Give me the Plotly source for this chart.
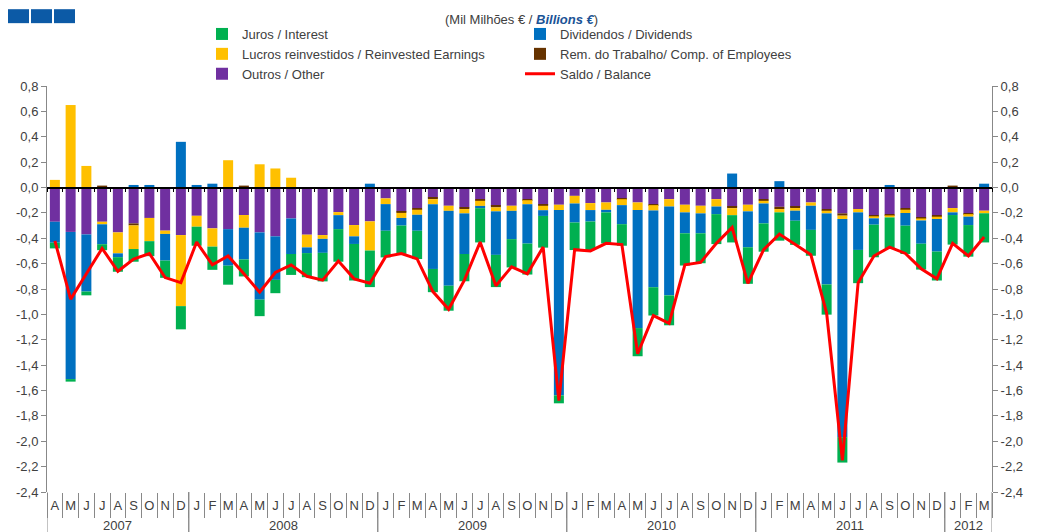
import plotly.graph_objects as go

# ---------------- data ----------------
month_letters = ["J", "F", "M", "A", "M", "J", "J", "A", "S", "O", "N", "D"]
start_year, start_month, n_months = 2007, 4, 60
years, months = [], []
for i in range(n_months):
    m = (start_month - 1 + i) % 12
    years.append(str(start_year + (start_month - 1 + i) // 12))
    months.append(month_letters[m])

juros = [-0.045, -0.02, -0.03, -0.047, -0.115, -0.10, -0.118, -0.136, -0.183,
         -0.15, -0.183, -0.15, -0.134, -0.13, -0.105, -0.165, -0.19, -0.225, -0.257, -0.288, -0.288,
         -0.21, -0.223, -0.223, -0.183, -0.197, -0.215, -0.27, -0.254, -0.223, -0.244, -0.25, -0.063,
         -0.217, -0.225, -0.245, -0.17, -0.222, -0.223, -0.236, -0.254, -0.236, -0.236, -0.215, -0.288,
         -0.223, -0.223, -0.19, -0.204, -0.238, -0.20, -0.262, -0.257, -0.244, -0.223, -0.204, -0.228,
         -0.233, -0.249, -0.23]
dividendos = [-0.165, -1.16, -0.45, -0.157, -0.03, 0.02, 0.02, -0.21, 0.36,
              0.02, 0.03, -0.288, -0.25, -0.53, -0.343, -0.28, -0.045, -0.11, -0.11, -0.06, 0.03,
              -0.21, -0.06, -0.126, -0.51, -0.59, -0.32, -0.018, -0.343, -0.223, -0.31, -0.045, -1.46,
              -0.15, -0.09, -0.02, -0.15, -0.93, -0.605, -0.70, -0.165, -0.157, -0.06, 0.11, -0.283,
              -0.157, 0.05, -0.079, -0.19, -0.56, -1.72, -0.296, -0.05, 0.02, -0.10, -0.183, -0.257,
              -0.021, -0.066, 0.03]
lucros = [0.06, 0.65, 0.17, -0.02, -0.165, -0.186, -0.183, -0.026, -0.56,
          -0.086, -0.144, 0.215, -0.10, 0.183, 0.15, 0.077, -0.10, -0.03, -0.024, -0.089, -0.23,
          -0.045, -0.04, -0.04, -0.04, -0.04, -0.034, -0.04, -0.031, -0.04, -0.032, -0.035, -0.042,
          -0.06, -0.055, -0.058, -0.047, -0.06, -0.042, -0.058, -0.06, -0.06, -0.058, -0.055, -0.052,
          -0.021, -0.026, -0.021, -0.026, -0.021, -0.026, -0.026, -0.016, -0.016, -0.026, -0.016, -0.018,
          -0.034, -0.02, -0.02]
remuneracoes = [0.0, 0.0, 0.0, 0.015, 0.0, -0.016, 0.0, 0.0, 0.0,
                0.0, 0.0, 0.0, 0.015, 0.0, 0.0, 0.0, 0.0, 0.0, 0.0, 0.0, 0.0,
                0.0, -0.01, -0.013, -0.013, 0.0, -0.013, -0.013, -0.013, 0.0, -0.008, -0.008, 0.0,
                0.0, 0.0, 0.0, -0.008, 0.0, -0.008, 0.0, 0.0, 0.0, 0.0, -0.013, 0.0,
                -0.013, -0.018, -0.01, 0.0, -0.013, -0.018, 0.0, -0.01, -0.01, -0.013, -0.008, -0.013,
                0.015, -0.006, 0.0]
outros = [-0.27, -0.35, -0.37, -0.27, -0.354, -0.283, -0.24, -0.34, -0.375,
          -0.223, -0.322, -0.328, -0.217, -0.354, -0.385, -0.244, -0.372, -0.375, -0.194, -0.296, -0.267,
          -0.086, -0.19, -0.162, -0.079, -0.144, -0.157, -0.092, -0.144, -0.144, -0.092, -0.136, -0.136,
          -0.066, -0.123, -0.118, -0.084, -0.118, -0.131, -0.092, -0.136, -0.144, -0.092, -0.15, -0.136,
          -0.092, -0.152, -0.152, -0.118, -0.17, -0.204, -0.17, -0.217, -0.21, -0.162, -0.236, -0.217,
          -0.162, -0.204, -0.183]
saldo = [-0.42, -0.88, -0.68, -0.48, -0.66, -0.565, -0.52, -0.71, -0.75,
         -0.43, -0.61, -0.54, -0.68, -0.825, -0.67, -0.61, -0.70, -0.73, -0.58, -0.72, -0.755,
         -0.545, -0.52, -0.563, -0.82, -0.96, -0.73, -0.43, -0.775, -0.625, -0.68, -0.47, -1.68,
         -0.49, -0.50, -0.44, -0.45, -1.31, -1.01, -1.07, -0.61, -0.59, -0.44, -0.315, -0.755,
         -0.49, -0.367, -0.45, -0.53, -0.99, -2.15, -0.75, -0.54, -0.47, -0.52, -0.64, -0.72,
         -0.44, -0.54, -0.39]

y_tick_vals = [-2.4, -2.2, -2.0, -1.8, -1.6, -1.4, -1.2, -1.0, -0.8, -0.6, -0.4, -0.2,
               0.0, 0.2, 0.4, 0.6, 0.8]
y_tick_text = ["-2,4", "-2,2", "-2,0", "-1,8", "-1,6", "-1,4", "-1,2", "-1,0", "-0,8", "-0,6",
               "-0,4", "-0,2", "0,0", "0,2", "0,4", "0,6", "0,8"]

# ---------------- figure ----------------
W, H = 1037, 532
OFF = 8  # page body margin offset
ML, MR, MT, MB = 39, 53, 77, 48
PW, PH = W - ML - MR, H - MT - MB


def px(xs):
    return (xs - OFF - ML) / PW


def py(ys):
    return 1 - (ys - OFF - MT) / PH


FONT = "Liberation Sans, Arial, sans-serif"
TXT = "#404040"
GRAY = "#888888"
idx = list(range(n_months))
boundaries = [i - 0.5 for i in range(n_months + 1)]

fig = go.Figure()
# stacking order (nearest zero first for negatives)
stack = [
    ("Outros / Other", outros, "#7030a0", "legend", 3),
    ("Rem. do Trabalho/ Comp. of Employees", remuneracoes, "#663300", "legend2", 2),
    ("Lucros reinvestidos / Reinvested Earnings", lucros, "#ffc000", "legend", 2),
    ("Dividendos / Dividends", dividendos, "#0070c0", "legend2", 1),
    ("Juros / Interest", juros, "#00b050", "legend", 1),
]
for name, vals, col, leg, rank in stack:
    fig.add_trace(go.Bar(x=idx, y=vals, name=name, marker=dict(color=col, line=dict(width=0)),
                         legend=leg, legendrank=rank))

fig.add_trace(go.Scatter(x=idx, y=saldo, name="Saldo / Balance", mode="lines",
                         line=dict(color="#ff0000", width=3), yaxis="y2",
                         legend="legend2", legendrank=3))
# helper axes: boundary ticks along the zero line (x2) and month separators (x3)
for ax in ("x2", "x3"):
    fig.add_trace(go.Scatter(x=[idx[0]], y=[0], xaxis=ax, mode="markers",
                             marker=dict(opacity=0), showlegend=False, hoverinfo="skip"))

yax = dict(range=[-2.4, 0.8], tickvals=y_tick_vals, ticktext=y_tick_text, showgrid=False,
           zeroline=False, showline=True, linecolor=GRAY, linewidth=1, ticks="outside",
           ticklen=5, tickcolor=GRAY, automargin=False,
           tickfont=dict(family=FONT, size=13, color=TXT))

fig.update_layout(
    width=W, height=H,
    margin=dict(l=ML, r=MR, t=MT, b=MB),
    paper_bgcolor="white", plot_bgcolor="white",
    barmode="relative", bargap=0.365,
    font=dict(family=FONT, size=13, color=TXT),
    xaxis=dict(range=[-0.5, n_months - 0.5], tickvals=idx, ticktext=months, ticks="",
               showgrid=False, zeroline=False, showline=False, automargin=False,
               ticklabelstandoff=4,
               tickfont=dict(family=FONT, size=13, color=TXT)),
    xaxis2=dict(overlaying="x", anchor="free", position=0.75,
                range=[-0.5, n_months - 0.5], showgrid=False, zeroline=False, showline=True,
                linecolor="black", linewidth=1.5, ticks="outside", ticklen=4, tickcolor="black",
                tickvals=boundaries, showticklabels=False, automargin=False),
    xaxis3=dict(overlaying="x", anchor="y", side="bottom",
                range=[-0.5, n_months - 0.5], showgrid=False, zeroline=False, showline=False,
                ticks="outside", ticklen=25, tickcolor=GRAY, tickwidth=1,
                tickvals=boundaries, showticklabels=False, automargin=False),
    yaxis=yax,
    yaxis2=dict(yax, overlaying="y", side="right", anchor="x"),
    showlegend=True,
    legend=dict(x=px(202), y=py(19), xanchor="left", yanchor="top", traceorder="normal",
                bgcolor="rgba(0,0,0,0)", font=dict(family=FONT, size=13, color=TXT),
                itemwidth=30, tracegroupgap=0),
    legend2=dict(x=px(520), y=py(19), xanchor="left", yanchor="top", traceorder="normal",
                 bgcolor="rgba(0,0,0,0)", font=dict(family=FONT, size=13, color=TXT),
                 itemwidth=30, tracegroupgap=0),
)

# year groups: dividers and labels
groups = []
for i, yv in enumerate(years):
    if not groups or groups[-1][0] != yv:
        groups.append([yv, i, i])
    else:
        groups[-1][2] = i
for yv, a, b in groups:
    fig.add_annotation(x=(a + b) / 2, y=py(526), xref="x", yref="paper", text=yv,
                       showarrow=False, yanchor="middle",
                       font=dict(family=FONT, size=13, color=TXT))
    for xb in (a - 0.5, b + 0.5):
        fig.add_shape(type="line", xref="x", yref="paper", x0=xb, x1=xb, y0=0, y1=py(540),
                      line=dict(color=GRAY, width=1))

fig.add_annotation(
    x=px(521), y=py(18), xref="paper", yref="paper", showarrow=False,
    text="(Mil Milhões € / <b><i><span style='color:#1a5396'>Billions €</span></i></b>)",
    font=dict(family=FONT, size=13, color=TXT), xanchor="center", yanchor="middle")

for x0 in (8, 31, 54):
    fig.add_shape(type="rect", xref="paper", yref="paper", x0=px(x0), x1=px(x0 + 21),
                  y0=py(22), y1=py(8), fillcolor="#0c5aa6", line=dict(width=0))

fig.write_html("out.html")
